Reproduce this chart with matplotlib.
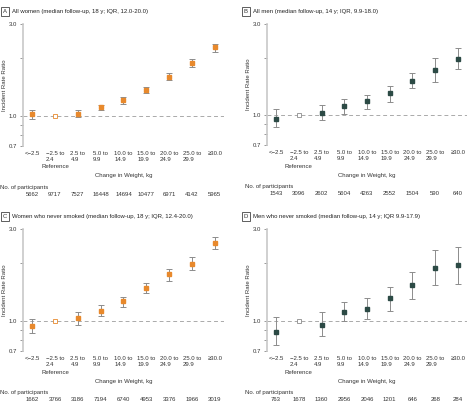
import numpy as np
import matplotlib
matplotlib.use("Agg")
import matplotlib.pyplot as plt
from matplotlib import transforms

plt.rcParams['font.family'] = ['Liberation Sans', 'DejaVu Sans']

# data
categories = ["<\u22122.5", "\u22122.5 to\n2.4", "2.5 to\n4.9", "5.0 to\n9.9", "10.0 to\n14.9",
              "15.0 to\n19.9", "20.0 to\n24.9", "25.0 to\n29.9", "\u226530.0"]
ref_idx = 1

titles = ["All women (median follow-up, 18 y; IQR, 12.0-20.0)",
          "All men (median follow-up, 14 y; IQR, 9.9-18.0)",
          "Women who never smoked (median follow-up, 18 y; IQR, 12.4-20.0)",
          "Men who never smoked (median follow-up, 14 y; IQR 9.9-17.9)"]
letters = ["A", "B", "C", "D"]

rr_a = [1.02, 1.0, 1.03, 1.11, 1.21, 1.37, 1.60, 1.88, 2.27]
lo_a = [0.97, 1.0, 0.99, 1.07, 1.16, 1.32, 1.53, 1.79, 2.15]
hi_a = [1.07, 1.0, 1.07, 1.14, 1.26, 1.42, 1.67, 1.97, 2.37]
n_a = [5662, 9717, 7527, 16448, 14694, 10477, 6971, 4142, 5965]

rr_b = [0.96, 1.0, 1.03, 1.12, 1.19, 1.31, 1.51, 1.72, 1.98]
lo_b = [0.865, 1.0, 0.94, 1.02, 1.085, 1.18, 1.39, 1.50, 1.74]
hi_b = [1.08, 1.0, 1.13, 1.22, 1.28, 1.43, 1.66, 1.99, 2.26]
n_b = [1543, 3096, 2602, 5604, 4263, 2552, 1504, 590, 640]

rr_c = [0.946, 1.0, 1.036, 1.13, 1.27, 1.48, 1.75, 1.97, 2.55]
lo_c = [0.865, 1.0, 0.96, 1.06, 1.19, 1.39, 1.62, 1.83, 2.36]
hi_c = [1.03, 1.0, 1.11, 1.21, 1.34, 1.58, 1.87, 2.15, 2.74]
n_c = [1662, 3766, 3186, 7194, 6740, 4953, 3376, 1966, 3019]

rr_d = [0.88, 1.0, 0.96, 1.11, 1.16, 1.31, 1.54, 1.89, 1.95]
lo_d = [0.75, 1.0, 0.84, 1.0, 1.02, 1.13, 1.30, 1.53, 1.56]
hi_d = [1.05, 1.0, 1.11, 1.25, 1.31, 1.51, 1.80, 2.34, 2.41]
n_d = [763, 1678, 1360, 2956, 2046, 1201, 646, 268, 284]

W, H = 468, 408
orange = "#e8892c"
dark = "#2c4a45"
grey = "#8c8c8c"
fs = 4.3

fig = plt.figure(figsize=(W / 100, H / 100), dpi=100)


def fy(y):
    return 1 - y / H


panels = [
    (23, 224, 24, 146, rr_a, lo_a, hi_a, n_a, orange),
    (267, 467, 24, 145, rr_b, lo_b, hi_b, n_b, dark),
    (23, 224, 229, 351, rr_c, lo_c, hi_c, n_c, orange),
    (267, 467, 229, 351, rr_d, lo_d, hi_d, n_d, dark),
]

x = np.arange(len(categories))
for i, (l, r, t, b, rr, lo, hi, n, col) in enumerate(panels):
    ax = fig.add_axes([l / W, fy(b), (r - l) / W, (b - t) / H])
    rr = np.array(rr); lo = np.array(lo); hi = np.array(hi)
    ax.set_yscale('log')
    ax.set_ylim(0.7, 3.0)
    ax.set_xlim(-0.4, 8.4)
    ax.axhline(1.0, color="#aaaaaa", lw=0.7, ls=(0, (4, 3)), zorder=1)

    mask = x != ref_idx
    ax.errorbar(x[mask], rr[mask], yerr=[rr[mask] - lo[mask], hi[mask] - rr[mask]],
                fmt='none', ecolor=grey, elinewidth=0.7, capsize=2.2, capthick=0.7, zorder=2)
    ax.plot(x[mask], rr[mask], 's', color=col, ms=3, zorder=3)
    ax.plot([ref_idx], [rr[ref_idx]], 's', mfc='white', mec=col if col == orange else grey,
            mew=0.6, ms=3, zorder=3)

    for s in ['top', 'right', 'bottom']:
        ax.spines[s].set_visible(False)
    ax.spines['left'].set_color("#c8c8c8")
    ax.spines['left'].set_linewidth(1.2)
    ax.set_yticks([0.7, 0.8, 0.9, 1.0, 2.0, 3.0])
    ax.set_yticklabels(['0.7', '', '', '1.0', '', '3.0'])
    ax.minorticks_off()
    ax.tick_params(axis='y', length=2.5, width=0.7, color="#999999", labelsize=fs, pad=2,
                   labelcolor="#333333")
    ax.set_xticks(x)
    ax.set_xticklabels(categories, fontsize=fs, color="#333333", linespacing=1.35)
    for lab in ax.get_xticklabels():
        lab.set_multialignment('left')
    ax.tick_params(axis='x', length=0, pad=3.5)
    ax.set_ylabel("Incident Rate Ratio", fontsize=fs, color="#333333")
    ax.yaxis.set_label_coords(-16 / (r - l), 0.5)

    tr = transforms.blended_transform_factory(ax.transData, fig.transFigure)
    ax.text(ref_idx, fy(b + 21), "Reference", transform=tr, ha='center', va='center',
            fontsize=fs, color="#333333")
    ax.text(4, fy(b + 30), "Change in Weight, kg", transform=tr, ha='center', va='center',
            fontsize=fs, color="#333333")
    for xi, nv in zip(x, n):
        ax.text(xi, fy(b + 48.5), str(nv), transform=tr, ha='center', va='center',
                fontsize=fs, color="#333333")
    fig.text((l - 23) / W + 0.5 / W, fy(b + 41.5),
             "No. of participants", ha='left', va='center', fontsize=fs, color="#333333")

    bx = (l - 18) / W if i % 2 == 0 else (l - 21) / W
    fig.text(bx, fy(t - 12.5), letters[i], ha='center', va='center', fontsize=fs, color="#333333",
             bbox=dict(boxstyle='square,pad=0.35', fc='white', ec='#444444', lw=0.6))
    fig.text(bx + 7 / W, fy(t - 12.5), titles[i], ha='left', va='center', fontsize=fs,
             color="#222222")

fig.savefig("out.png", dpi=100)
